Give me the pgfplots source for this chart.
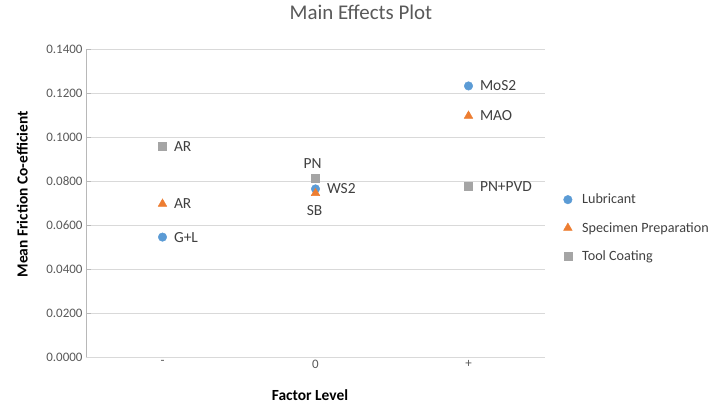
\documentclass[border=0pt]{standalone}
\usepackage{pgfplots}
\pgfplotsset{compat=1.18}
\usepackage{fontspec}
\setmainfont{Carlito}
\definecolor{lub}{HTML}{5B9BD5}
\definecolor{spec}{HTML}{ED7D31}
\definecolor{tool}{HTML}{A5A5A5}
\definecolor{txt}{HTML}{404040}
\definecolor{tick}{HTML}{595959}
\definecolor{grd}{HTML}{D9D9D9}

\begin{document}
\begin{tikzpicture}
\path[use as bounding box] (-86bp,-58bp) rectangle (637bp,357bp);
\begin{axis}[
    scale only axis,
    width=459bp, height=308bp,
    xmin=-0.5, xmax=2.5,
    ymin=0, ymax=0.14,
    ytick={0,0.02,0.04,0.06,0.08,0.1,0.12,0.14},
    yticklabel style={/pgf/number format/.cd,fixed,fixed zerofill,precision=4,assume math mode=true},
    xtick={0,1,2},
    xticklabels={-,0,+},
    axis lines*=left,
    x axis line style={draw=grd},
    y axis line style={draw=grd!85!black},
    xtick style={draw=none},
    ytick style={color=grd!85!black, line width=0.6pt},
    major tick length=5bp,
    ymajorgrids,
    grid style={color=grd, line width=0.6pt},
    tick label style={color=tick, font=\fontsize{13}{15}\selectfont},
    xlabel={Factor Level},
    ylabel={Mean Friction Co-efficient},
    label style={font=\bfseries\fontsize{15.5}{17}\selectfont, color=black},
    xlabel style={at={(axis description cs:0.488,-0.123)}, anchor=center},
    ylabel style={at={(axis description cs:-0.139,0.528)}, anchor=center},
    title={Main Effects Plot},
    title style={at={(axis description cs:0.599,1.10)}, anchor=center, color=tick, font=\fontsize{21}{24}\selectfont},
    legend style={draw=none, fill=none, at={(axis description cs:1.04,0.419)}, anchor=west,
        font=\fontsize{14.2}{16}\selectfont, text=txt, row sep=13bp, inner sep=0pt,
        /tikz/every odd column/.append style={column sep=8bp}},
    legend cell align=left,
    every node near coord/.append style={font=\fontsize{15.5}{17}\selectfont, text=txt},
    clip=false,
]
% Lubricant
\addplot[only marks, mark=*, mark size=4.3pt, color=lub,
    nodes near coords, point meta=explicit symbolic,
    nodes near coords style={anchor=west, xshift=8bp}]
    coordinates {(0,0.0545)[G+L] (1,0.0764)[WS2] (2,0.1232)[MoS2]};
\addlegendentry{Lubricant}
% Specimen Preparation
\addplot[only marks, mark=triangle*, mark size=5pt, color=spec,
    nodes near coords, point meta=explicit symbolic,
    nodes near coords style={anchor=west, xshift=8bp}]
    coordinates {(0,0.0696)[AR] (2,0.1096)[MAO]};
\addlegendentry{Specimen Preparation}
% Tool Coating
\addplot[only marks, mark=square*, mark size=3.9pt, color=tool,
    nodes near coords, point meta=explicit symbolic,
    nodes near coords style={anchor=west, xshift=8bp}]
    coordinates {(0,0.0958)[AR] (2,0.0777)[PN+PVD]};
\addlegendentry{Tool Coating}
% level 0 points with labels above / below
\addplot[forget plot, only marks, mark=square*, mark size=3.9pt, color=tool,
    nodes near coords, point meta=explicit symbolic,
    nodes near coords style={anchor=south, yshift=6bp, xshift=-3bp}]
    coordinates {(1,0.0814)[PN]};
\addplot[forget plot, only marks, mark=triangle*, mark size=5pt, color=spec,
    nodes near coords, point meta=explicit symbolic,
    nodes near coords style={anchor=north, yshift=-9bp, xshift=-1bp}]
    coordinates {(1,0.0745)[SB]};
\end{axis}
\end{tikzpicture}
\end{document}
